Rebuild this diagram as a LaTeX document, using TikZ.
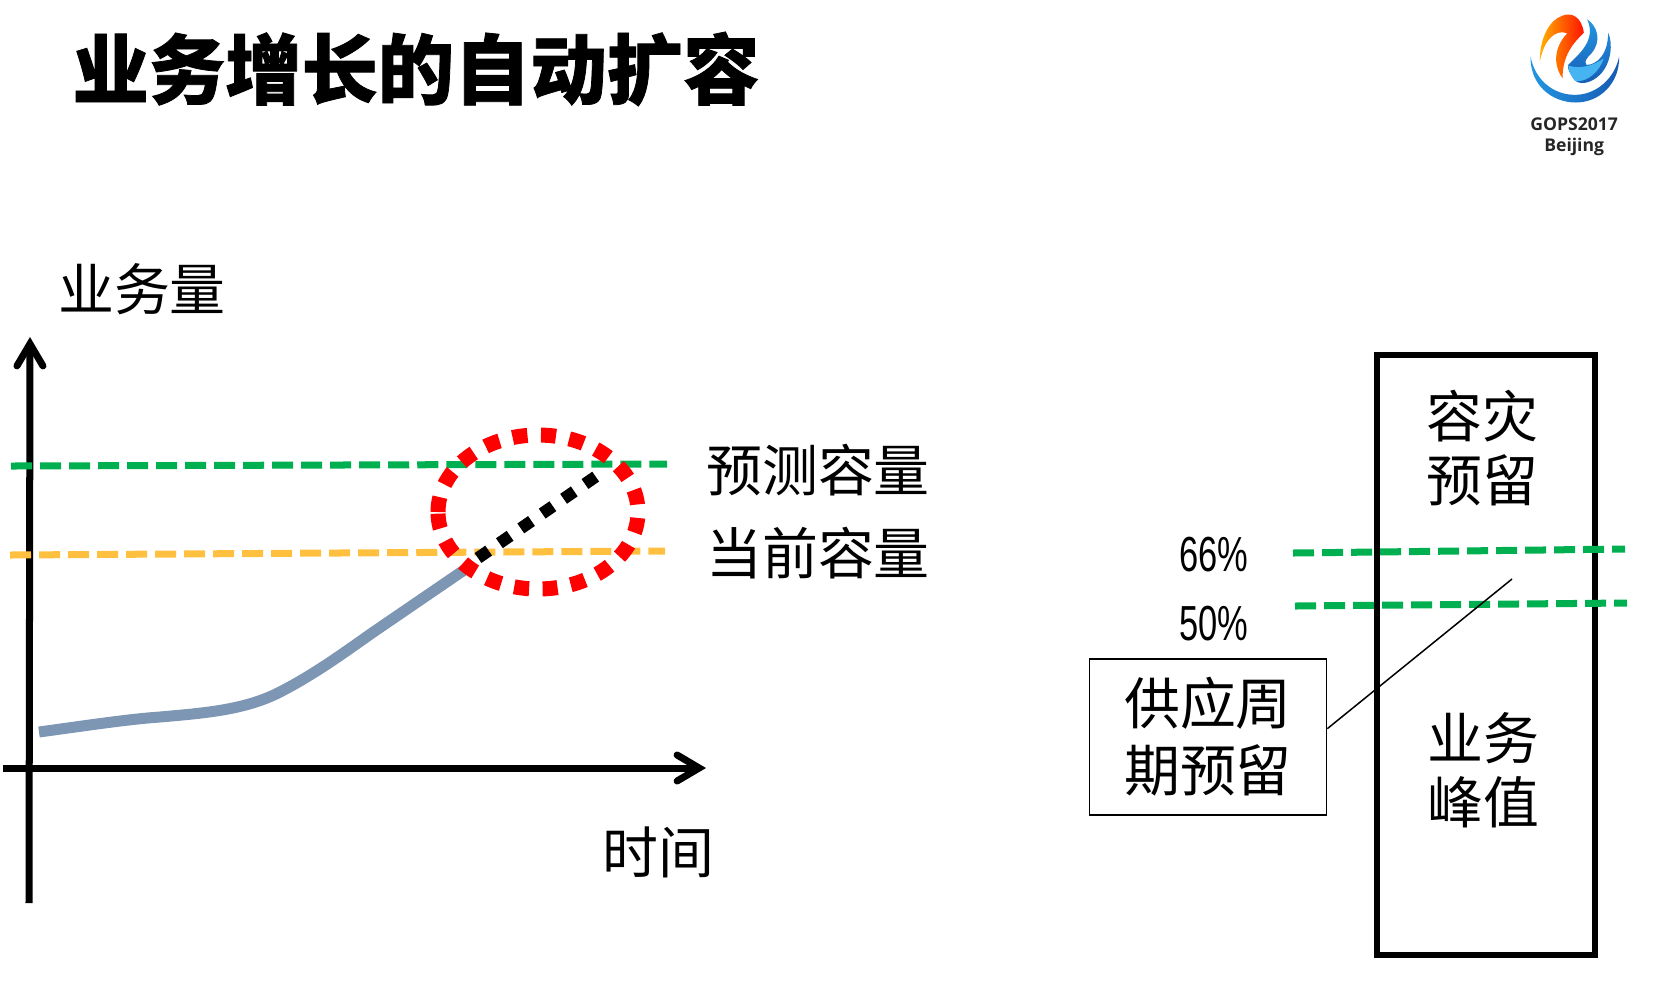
\documentclass[tikz,border=0pt]{standalone}
\usepackage{fontspec}
\usepackage{xcolor}
\setmainfont{Noto Sans CJK SC}
\newfontfamily\titlefont[BoldFeatures={FakeBold=1}]{Noto Sans CJK SC}
\newfontfamily\logofont{Open Sans}
\newfontfamily\narrowfont[FakeStretch=0.7]{Liberation Sans}
\usetikzlibrary{arrows.meta, positioning}
\definecolor{capgreen}{RGB}{0, 176, 80}
\definecolor{curorange}{RGB}{255, 192, 64}
\definecolor{curvegray}{RGB}{125, 150, 180}
\definecolor{logolight}{RGB}{70, 180, 240}
\definecolor{logomid}{RGB}{35, 150, 225}
\definecolor{logodark}{RGB}{22, 90, 180}
\tikzset{
  axisline/.style={line width=0.07cm, -{Straight Barb[length=0.22cm,width=0.26cm,line width=0.07cm,line cap=round,line join=miter]}},
  capline/.style={line width=0.07cm, dash pattern=on 0.21cm off 0.08cm},
  biglabel/.style={font=\fontsize{15.9}{18.2}\selectfont, inner sep=0pt, align=center},
  pctlabel/.style={font=\fontsize{14}{16}\narrowfont, inner sep=0pt},
  logotext/.style={font=\fontsize{5}{6}\logofont\bfseries, inner sep=0pt, text=black!85}
}
\begin{document}
\begin{tikzpicture}[x=0.01cm, y=-0.01cm]
    \useasboundingbox (0,0) rectangle (1666,996);
    \node[inner sep=0pt, font=\fontsize{21.7}{24}\titlefont\bfseries] (title) at (416,69) {业务增长的自动扩容};
    % axes
    \draw[axisline] (29,903) -- (30,337);
    \draw[axisline] (3,768) -- (706,768);
    \node[biglabel] (ylabel) at (142,289) {业务量};
    \node[biglabel] (xlabel) at (658,852) {时间};
    % capacity lines
    \draw[capline, capgreen] (11,466) -- (667,464);
    \draw[capline, curorange] (10,555) -- (665,551);
    \node[biglabel] (forecast) at (818,470) {预测容量};
    \node[biglabel] (current) at (818,553) {当前容量};
    % growth curve
    \draw[line width=0.11cm, curvegray] (39,732) .. controls (90,725) and (130,719) .. (160,717)
      .. controls (205,713) and (245,710) .. (280,692)
      .. controls (315,674) and (345,652) .. (372,633) -- (470,566);
    \draw[line width=0.12cm, black, dash pattern=on 0.13cm off 0.13cm] (478,558) -- (598,475);
    \draw[line width=0.15cm, red, dash pattern=on 0.15cm off 0.135cm] (438,512) arc[start angle=180, end angle=540, x radius=100, y radius=77];
    % right column
    \node[draw, line width=0.06cm, minimum width=2.18cm, minimum height=6.0cm, inner sep=0pt] (capbox) at (1486,655) {};
    \node[biglabel] (drbuf) at (1482,448) {容灾\\预留};
    \node[biglabel] (peak) at (1483,770) {业务\\峰值};
    \draw[capline, capgreen] (1293,553) -- (1625,549);
    \draw[capline, capgreen] (1295,606) -- (1627,603);
    \node[pctlabel] (pcta) at (1214,555) {66\%};
    \node[pctlabel] (pctb) at (1214,624) {50\%};
    \node[draw, line width=0.015cm, minimum width=2.37cm, minimum height=1.56cm, biglabel] (supply) at (1208,737) {供应周\\[0.03cm]期预留};
    \coordinate (leadend) at (1512,579);
    \draw[line width=0.015cm] (supply.4) -- (leadend);
    % logo
    \begin{scope}[shift={(1480,0)}, x=0.00333cm, y=-0.00333cm]
      \shade[left color=logomid, right color=logodark] (152,170)
        .. controls (150,255) and (215,308) .. (288,308)
        .. controls (360,308) and (420,250) .. (418,170)
        .. controls (405,235) and (350,285) .. (285,285)
        .. controls (220,285) and (165,240) .. (152,170) -- cycle;
      \shade[left color=orange!60!yellow, right color=red!85!orange] (180,185)
        .. controls (178,115) and (210,60) .. (245,48)
        .. controls (275,35) and (305,50) .. (312,98)
        .. controls (280,130) and (248,165) .. (248,235)
        .. controls (225,205) and (215,150) .. (262,100)
        .. controls (225,85) and (190,125) .. (180,185) -- cycle;
      \shade[top color=logomid, bottom color=logodark] (322,58)
        .. controls (355,80) and (365,125) .. (335,160)
        .. controls (320,175) and (312,185) .. (320,195)
        .. controls (350,195) and (385,165) .. (385,98)
        .. controls (400,130) and (395,190) .. (360,225)
        .. controls (335,250) and (295,260) .. (280,235)
        .. controls (272,220) and (262,210) .. (265,195)
        .. controls (300,160) and (350,120) .. (322,58) -- cycle;
      \fill[logolight] (265,197) .. controls (290,205) and (330,205) .. (372,175)
        .. controls (360,215) and (320,250) .. (285,243)
        .. controls (272,225) and (266,215) .. (265,197) -- cycle;
      \node[logotext] (logoa) at (283,372) {GOPS2017};
      \node[logotext] (logob) at (283,441) {Beijing};
    \end{scope}
\end{tikzpicture}
\end{document}
